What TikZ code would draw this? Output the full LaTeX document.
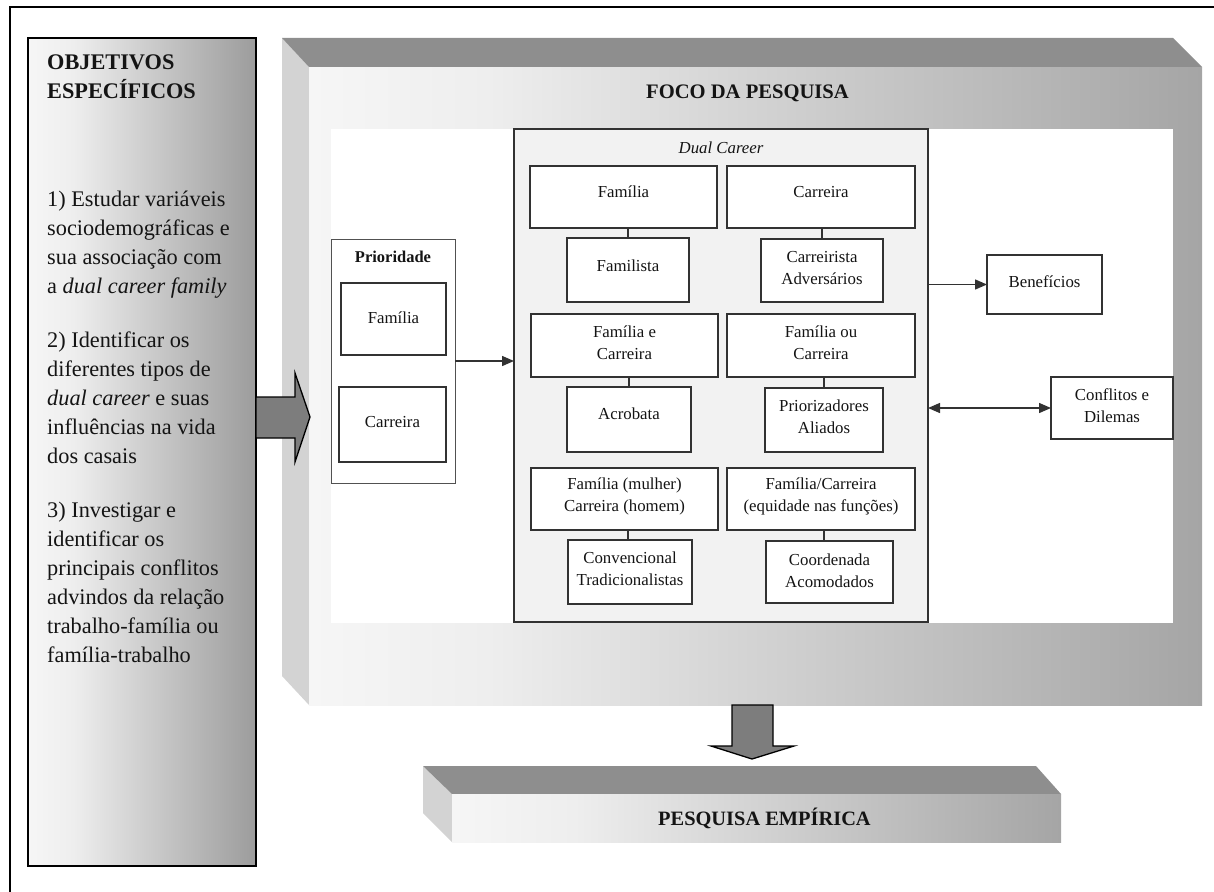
\documentclass[tikz,border=0pt]{standalone}
\usepackage{fontspec}
\setmainfont{Liberation Serif}
\usetikzlibrary{arrows.meta}

\definecolor{faceL}{RGB}{246,246,246}
\definecolor{faceM}{RGB}{238,238,238}
\definecolor{faceR}{RGB}{165,165,165}
\definecolor{objR}{RGB}{156,156,156}
\definecolor{topface}{RGB}{142,142,142}
\definecolor{sideface}{RGB}{211,211,211}
\definecolor{dcfill}{RGB}{242,242,242}
\definecolor{arrowfill}{RGB}{125,125,125}
\definecolor{boxline}{RGB}{50,50,50}
\definecolor{ink}{RGB}{20,20,20}

% light-to-grey front faces (25bp..75bp span the filled path)
\pgfdeclarehorizontalshading{frontface}{100bp}{color(0bp)=(faceL); color(25bp)=(faceL); color(35bp)=(faceM); color(75bp)=(faceR); color(100bp)=(faceR)}
\pgfdeclarehorizontalshading{objface}{100bp}{color(0bp)=(faceL); color(25bp)=(faceL); color(35bp)=(faceM); color(75bp)=(objR); color(100bp)=(objR)}

\tikzset{
  ibox/.style={draw=boxline, fill=white, line width=1.4pt, inner sep=0pt, outer sep=0pt},
  itext/.style={text=ink, font=\fontsize{16.8pt}{22pt}\selectfont, align=center, inner sep=0pt},
  link/.style={draw=boxline, line width=1.4pt},
  arr/.style={link, -{Triangle[length=12pt,width=10pt]}},
  dblarr/.style={link, {Triangle[length=12pt,width=10pt]}-{Triangle[length=12pt,width=10pt]}},
  blockarrow/.style={fill=arrowfill, draw=black, line width=1.3pt, line join=miter},
  headline/.style={text=ink, inner sep=0pt, anchor=base west},
}

\begin{document}
\begin{tikzpicture}[x=1pt, y=-1pt]
\useasboundingbox (0,0) rectangle (1214,891);

% outer frame
\draw[black, line width=1.5pt] (10,7) rectangle (1224,900);

% objectives panel
\node[draw=black, line width=1.8pt, shading=objface, minimum width=228pt, minimum height=828pt,
      inner sep=0pt, outer sep=0pt] (obj) at (142,452) {};
\node[text=ink, anchor=north west, inner sep=0pt, align=left,
      font=\fontsize{22.3pt}{29pt}\selectfont] (objtxt) at (47,48.7)
  {\strut\textbf{OBJETIVOS}\\
   \textbf{ESPECÍFICOS}\\[79pt]
   1) Estudar variáveis\\
   sociodemográficas e\\
   sua associação com\\
   a \textit{dual career family}\\[25pt]
   2) Identificar os\\
   diferentes tipos de\\
   \textit{dual career} e suas\\
   influências na vida\\
   dos casais\\[25pt]
   3) Investigar e\\
   identificar os\\
   principais conflitos\\
   advindos da relação\\
   trabalho-família ou\\
   família-trabalho};

% research focus block (3D slab)
\fill[sideface] (282,38) -- (309,67) -- (309,705) -- (282,676) -- cycle;
\fill[topface] (282,38) -- (1173,38) -- (1202,67) -- (309,67) -- cycle;
\node[shading=frontface, minimum width=893pt, minimum height=638pt, inner sep=0pt, outer sep=0pt]
  (focus) at (755.5,386) {};
\fill[white] (331,129) rectangle (1173,623);
\node[headline, font=\bfseries\fontsize{20.6pt}{24pt}\selectfont] (focustitle) at (646,98) {FOCO DA PESQUISA};

% arrow from objectives into the focus block
\path[blockarrow] (256,397) -- (295,397) -- (295,373) -- (310,417) -- (295,462) -- (295,438) -- (256,438) -- cycle;

% priority panel
\node[draw=boxline!85, fill=white, line width=1pt, minimum width=124pt, minimum height=244pt,
      inner sep=0pt, outer sep=0pt] (prio) at (393,361) {};
\node[text=ink, inner sep=0pt, font=\bfseries\fontsize{16.5pt}{20pt}\selectfont] (prio-t) at (393,257) {Prioridade};
\node[ibox, minimum width=105pt, minimum height=72pt] (prioF) at (393.5,319) {};
\node[itext] (prioF-t) at (393.5,318) {Família};
\node[ibox, minimum width=107pt, minimum height=75pt] (prioC) at (392.5,424.5) {};
\node[itext] (prioC-t) at (392.5,422) {Carreira};

% dual career panel
\node[draw=boxline, fill=dcfill, line width=1.4pt, minimum width=414pt, minimum height=493pt,
      inner sep=0pt, outer sep=0pt] (dc) at (721,375.5) {};
\node[itext, font=\itshape\fontsize{16.8pt}{22pt}\selectfont] (dc-t) at (721,148) {Dual Career};

% priority pairs and their types
\node[ibox, minimum width=187pt, minimum height=62pt] (famP) at (623.5,197) {};
\node[itext] (famP-t) at (623.5,192) {Família};
\node[ibox, minimum width=188pt, minimum height=62pt] (carP) at (821,197) {};
\node[itext] (carP-t) at (821,192) {Carreira};
\node[ibox, minimum width=122pt, minimum height=64pt] (familista) at (628,270) {};
\node[itext] (familista-t) at (628,266) {Familista};
\node[ibox, minimum width=122pt, minimum height=63pt] (carreirista) at (822,270.5) {};
\node[itext] (carreirista-t) at (822,268) {Carreirista\\Adversários};

\node[ibox, minimum width=187pt, minimum height=63pt] (feC) at (624.5,345.5) {};
\node[itext] (feC-t) at (624.5,343) {Família e\\Carreira};
\node[ibox, minimum width=188pt, minimum height=63pt] (fouC) at (821,345.5) {};
\node[itext] (fouC-t) at (821,343) {Família ou\\Carreira};
\node[ibox, minimum width=124pt, minimum height=65pt] (acrobata) at (629,419.5) {};
\node[itext] (acrobata-t) at (629,414) {Acrobata};
\node[ibox, minimum width=118pt, minimum height=64pt] (prioriz) at (824,420) {};
\node[itext] (prioriz-t) at (824,416.5) {Priorizadores\\Aliados};

\node[ibox, minimum width=187pt, minimum height=62pt] (fmch) at (624.5,499) {};
\node[itext] (fmch-t) at (624.5,496) {Família (mulher)\\Carreira (homem)};
\node[ibox, minimum width=188pt, minimum height=62pt] (fcef) at (821,499) {};
\node[itext] (fcef-t) at (821,496) {Família/Carreira\\(equidade nas funções)};
\node[ibox, minimum width=124pt, minimum height=64pt] (conv) at (630,572) {};
\node[itext] (conv-t) at (630,569) {Convencional\\Tradicionalistas};
\node[ibox, minimum width=127pt, minimum height=62pt] (coord) at (829.5,572) {};
\node[itext] (coord-t) at (829.5,570.5) {Coordenada\\Acomodados};

\draw[link] (familista.north) -- (familista.north |- famP.south);
\draw[link] (carreirista.north) -- (carreirista.north |- carP.south);
\draw[link] (acrobata.north) -- (acrobata.north |- feC.south);
\draw[link] (prioriz.north) -- (prioriz.north |- fouC.south);
\draw[link] ([xshift=-2pt]conv.north) -- ([xshift=-2pt]conv.north |- fmch.south);
\draw[link] ([xshift=-5.5pt]coord.north) -- ([xshift=-5.5pt]coord.north |- fcef.south);

% outcomes
\node[ibox, minimum width=115pt, minimum height=59pt] (ben) at (1044.5,284.5) {};
\node[itext] (ben-t) at (1044.5,282) {Benefícios};
\node[ibox, minimum width=122pt, minimum height=62pt] (conf) at (1112,408) {};
\node[itext] (conf-t) at (1112,406) {Conflitos e\\Dilemas};

\draw[arr] (prio.east) -- (prio.east -| dc.west);
\draw[arr] (dc.east |- ben.west) -- (ben.west);
\draw[dblarr] (dc.east |- conf.west) -- (conf.west);

% arrow down to the empirical research slab
\path[blockarrow] (732,705) -- (773,705) -- (773,746) -- (794,746) -- (752,759) -- (711,746) -- (732,746) -- cycle;

% empirical research slab
\fill[sideface] (423,766) -- (452,794) -- (452,842) -- (423,813) -- cycle;
\fill[topface] (423,766) -- (1036,766) -- (1061,794) -- (452,794) -- cycle;
\node[shading=frontface, minimum width=609pt, minimum height=48pt, inner sep=0pt, outer sep=0pt]
  (emp) at (756.5,818) {};
\node[headline, font=\bfseries\fontsize{20.4pt}{24pt}\selectfont] (emp-t) at (658,825) {PESQUISA EMPÍRICA};

\end{tikzpicture}
\end{document}
